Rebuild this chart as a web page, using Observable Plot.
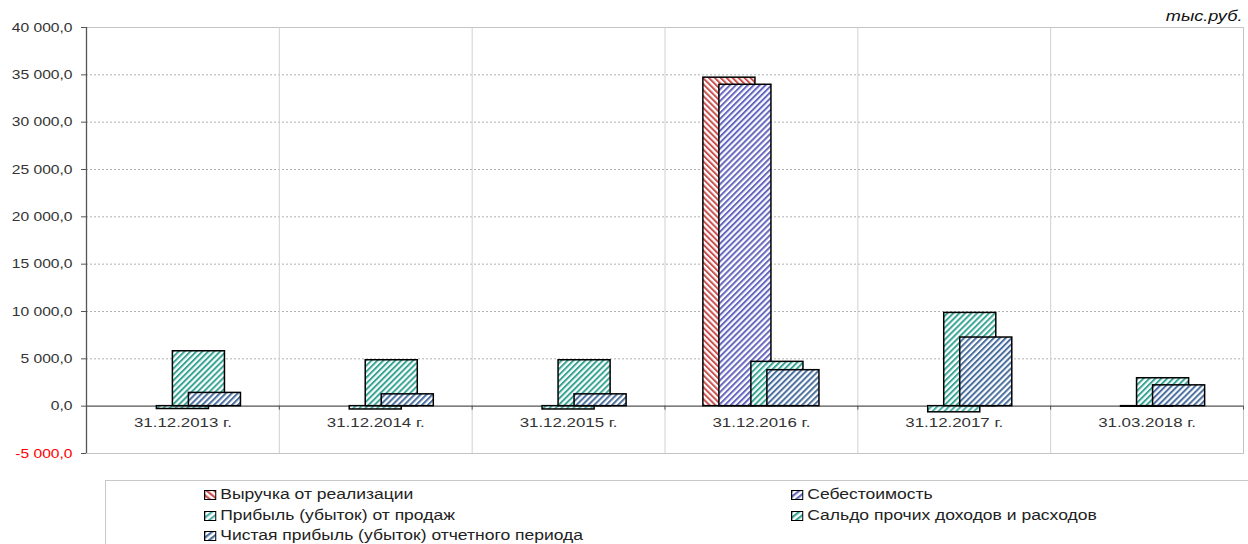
<!DOCTYPE html>
<html><head><meta charset="utf-8">
<script src="https://cdn.jsdelivr.net/npm/d3@7"></script>
<script src="https://cdn.jsdelivr.net/npm/@observablehq/plot@0.6"></script>
<style>
body{margin:0;background:#fff;font-family:"Liberation Sans",Arial,sans-serif;}
#wrap{position:relative;width:1248px;height:544px;overflow:hidden;}
#legend{position:absolute;left:105px;top:480px;width:1160px;height:80px;border:1px solid #c8c8c8;box-sizing:border-box;}
.item{position:absolute;font-size:14px;color:#222;white-space:nowrap;transform-origin:left center;line-height:16px;}
.item svg{vertical-align:-1px;margin-right:3px;}
</style></head><body><div id="wrap"></div>
<script>
const categories = ["31.12.2013 г.", "31.12.2014 г.", "31.12.2015 г.", "31.12.2016 г.", "31.12.2017 г.", "31.03.2018 г."];
const seriesNames = ["Выручка от реализации", "Себестоимость", "Прибыль (убыток) от продаж", "Сальдо прочих доходов и расходов", "Чистая прибыль (убыток) отчетного периода"];
const revenue = [0, 0, 0, 34700, 0, 0];
const cost = [0, 0, 0, 33950, 0, 0];
const salesProfit = [-300, -350, -350, 0, -650, -60];
const otherBalance = [5800, 4850, 4850, 4680, 9850, 2950];
const netProfit = [1400, 1250, 1250, 3800, 7250, 2200];
const yTicks = [-5000, 0, 5000, 10000, 15000, 20000, 25000, 30000, 35000, 40000];
const unitLabel = "тыс.руб.";

const seriesValues = [revenue, cost, salesProfit, otherBalance, netProfit];
const colors = ["#c9504e", "#6767c0", "#4fb0a8", "#3aa595", "#4a6f9e"];
const hatch = [-45, 45, 45, 45, 45];

const W = 1248, H = 470;
const groupStart = 0.199, step = 0.083, barW = 0.27;
const loc = d3.formatLocale({decimal: ",", thousands: " ", grouping: [3], minus: "-"});
const fmt = loc.format(",.1f");

const barMarks = seriesValues.map((vals, k) =>
  Plot.rectY(
    vals.map((v, i) => ({i, v})).filter(d => d.v !== 0),
    {
      x1: d => d.i + groupStart + k * step,
      x2: d => d.i + groupStart + k * step + barW,
      y1: 0, y2: "v",
      fill: `url(#hatch${k})`, stroke: "#000", strokeWidth: 1.5
    })
);

const chart = Plot.plot({
  width: W, height: H,
  marginLeft: 86, marginRight: 5, marginTop: 27, marginBottom: 17,
  style: {fontFamily: "'Liberation Sans', Arial, sans-serif", background: "#fff"},
  x: {type: "linear", domain: [0, categories.length], axis: null},
  y: {domain: [-5000, 40000], axis: null},
  marks: [
    Plot.frame({stroke: "#c4c4c4"}),
    Plot.ruleY(yTicks.filter(t => t > 0 && t < 40000), {stroke: "#b0b0b0", strokeDasharray: "2,2"}),
    Plot.ruleX(d3.range(1, categories.length), {stroke: "#d0d0d0"}),
    Plot.ruleY([0], {stroke: "#555", strokeWidth: 1.2}),
    Plot.ruleX(d3.range(0, categories.length + 1), {y1: 0, y2: -420, stroke: "#555"}),
    Plot.ruleX([0], {stroke: "#555", strokeWidth: 1.3}),
    Plot.axisY(yTicks, {tickFormat: fmt, tickSize: 5, tickPadding: 9, fontSize: 12.5, stroke: "#555",
      fill: d => d < 0 ? "#ff0000" : "#333", label: null}),
    ...barMarks,
    Plot.text(categories, {x: (d, i) => i + 0.5, y: 0, dy: 17, fontSize: 13.5, fill: "#333"}),
    Plot.text([unitLabel], {frameAnchor: "top-right", dy: -17, dx: -1, fontSize: 14.5, fontStyle: "italic", fill: "#111"})
  ]
});

const svg = d3.select(chart);
const defs = svg.insert("defs", ":first-child");
colors.forEach((c, k) => {
  const p = defs.append("pattern").attr("id", `hatch${k}`).attr("patternUnits", "userSpaceOnUse")
    .attr("width", 4.2).attr("height", 4.2).attr("patternTransform", `rotate(${hatch[k]})`);
  p.append("rect").attr("width", 4.2).attr("height", 4.2).attr("fill", "#fff");
  p.append("rect").attr("width", 2).attr("height", 4.2).attr("fill", c);
});
const sx = 1.25;
svg.selectAll("text").each(function() {
  const t = this.getAttribute("transform");
  if (t) this.setAttribute("transform", t + ` scale(${sx},1)`);
});

const wrap = document.getElementById("wrap");
wrap.appendChild(chart);
const legend = document.createElement("div");
legend.id = "legend";
wrap.appendChild(legend);
const pos = [[98, 5], [685, 5], [98, 26], [685, 26], [98, 46]];
seriesNames.forEach((name, k) => {
  const it = document.createElement("div");
  it.className = "item";
  it.style.left = pos[k][0] + "px";
  it.style.top = pos[k][1] + "px";
  it.style.transform = `scale(${sx},1)`;
  it.innerHTML = `<svg width="10" height="10"><rect x="0.5" y="0.5" width="9" height="9" fill="url(#hatch${k})" stroke="#000"/></svg>` + name;
  legend.appendChild(it);
});
</script></body></html>
